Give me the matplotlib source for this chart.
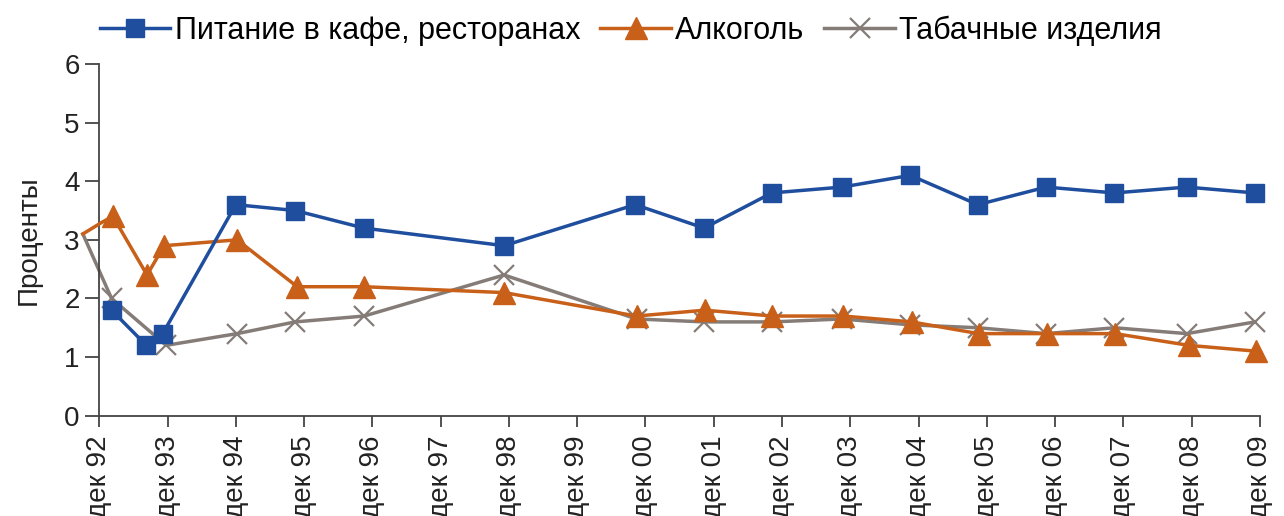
import numpy as np
import matplotlib.pyplot as plt

plt.rcParams['font.family'] = ['Liberation Sans', 'DejaVu Sans']

# годы от "дек 92" (0) до "дек 09" (17)
tick_labels = ["дек 92", "дек 93", "дек 94", "дек 95", "дек 96", "дек 97", "дек 98",
               "дек 99", "дек 00", "дек 01", "дек 02", "дек 03", "дек 04", "дек 05",
               "дек 06", "дек 07", "дек 08", "дек 09"]

# позиции точек (в годах от дек 92)
x_cafe = [0.18, 0.69, 0.93, 2.0, 2.87, 3.88, 5.93, 7.85, 8.86, 9.85,
          10.88, 11.88, 12.87, 13.87, 14.87, 15.93, 16.93]
cafe = [1.8, 1.2, 1.4, 3.6, 3.5, 3.2, 2.9, 3.6, 3.2, 3.8,
        3.9, 4.1, 3.6, 3.9, 3.8, 3.9, 3.8]

x_alc = [-0.24, 0.04, 0.2, 0.7, 0.95, 2.02, 2.9, 3.88, 5.93, 7.87, 8.87, 9.86,
         10.9, 11.9, 12.88, 13.88, 14.88, 15.96, 16.95]
alc = [3.1, 3.3, 3.4, 2.4, 2.9, 3.0, 2.2, 2.2, 2.1, 1.7, 1.8, 1.7,
       1.7, 1.6, 1.4, 1.4, 1.4, 1.2, 1.1]
alc_marked = [False, False] + [True] * 17

x_tob = [-0.24, 0.18, 0.98, 2.02, 2.87, 3.88, 5.93, 7.87, 8.86, 9.86,
         10.88, 11.88, 12.87, 13.87, 14.87, 15.93, 16.93]
tob = [3.1, 2.0, 1.2, 1.4, 1.6, 1.7, 2.4, 1.65, 1.6, 1.6,
       1.65, 1.55, 1.5, 1.4, 1.5, 1.4, 1.6]
tob_marked = [False] + [True] * 16

C_BLUE = "#1F4E9E"
C_ORANGE = "#C8601A"
C_GREY = "#857C78"

fig = plt.figure(figsize=(12.84, 5.16), dpi=100)
ax = fig.add_axes([0.0773, 0.1944, 0.9039, 0.6816])

ax.plot(x_tob, tob, color=C_GREY, lw=2.5, marker="x", ms=14, mew=1.6,
        markevery=tob_marked, clip_on=False, zorder=2, label="Табачные изделия")
ax.plot(x_alc, alc, color=C_ORANGE, lw=2.5, marker="^", ms=16,
        markevery=alc_marked, clip_on=False, zorder=3, label="Алкоголь")
ax.plot(x_cafe, cafe, color=C_BLUE, lw=2.5, marker="s", ms=13,
        clip_on=False, zorder=4, label="Питание в кафе, ресторанах")

ax.set_xlim(0, 17)
ax.set_ylim(0, 6)
ax.set_xticks(np.arange(len(tick_labels)))
ax.set_xticklabels(tick_labels, rotation=90, fontsize=20, color="#222222")
ax.set_yticks(range(7))
ax.tick_params(axis="y", labelsize=20, labelcolor="#222222", length=10, width=1.3,
               color="#444444", pad=4)
ax.tick_params(axis="x", length=8, width=1.3, color="#444444", pad=6)
ax.set_ylabel("Проценты", fontsize=20, color="#222222", labelpad=16)

for side in ["top", "right"]:
    ax.spines[side].set_visible(False)
for side in ["left", "bottom"]:
    ax.spines[side].set_color("#444444")
    ax.spines[side].set_linewidth(1.3)

h, l = ax.get_legend_handles_labels()
order = [2, 1, 0]
fig.legend([h[i] for i in order], [l[i] for i in order], loc="upper left",
           bbox_to_anchor=(0.059, 1.018), ncol=3, frameon=False, fontsize=22,
           handlelength=2.3, handletextpad=0.15, columnspacing=0.65, borderpad=0.3)

fig.savefig("out.png", dpi=100)
